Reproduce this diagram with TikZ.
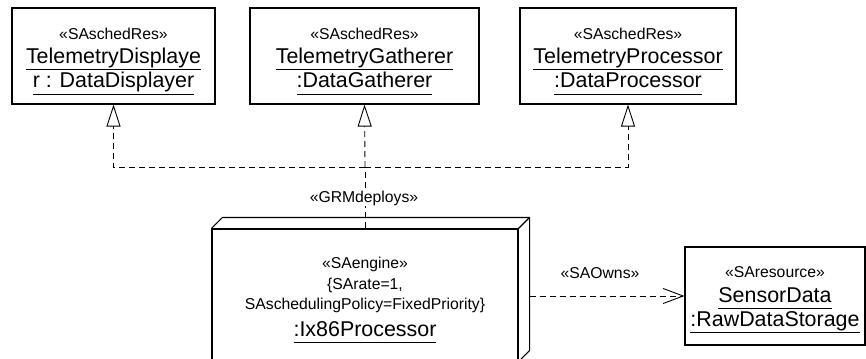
\documentclass[tikz,border=0pt]{standalone}
\usepackage{fontspec}
\setmainfont{Liberation Sans}
\usetikzlibrary{arrows.meta,calc}
\newcommand\ulx[1]{\underline{\vphantom{y}#1}}
\newcommand\smallsz{\fontsize{15.8}{20.5}\selectfont}
\newcommand\bigsz{\fontsize{21.5}{24.5}\selectfont}
\tikzset{
  objbox/.style={draw, line width=1.1bp, inner sep=0pt},
  boxtext/.style={align=center, inner sep=0pt, font=\bigsz},
  dep/.style={line width=0.9bp, dash pattern=on 6bp off 4bp},
  real/.style={dep, -{Triangle[open,length=22bp,width=14bp,line width=0.9bp]}},
  owns/.style={dep, -{Straight Barb[length=20bp,width=15bp,line width=0.9bp]}},
  lbl/.style={font=\smallsz, inner sep=1pt}
}
\begin{document}
\begin{tikzpicture}[x=1bp,y=-1bp]
\useasboundingbox (0,0) rectangle (866,358);
\clip (0,0) rectangle (866,358);
% top boxes
\node[objbox, minimum width=203bp, minimum height=96bp] (b1) at (113.5,56) {};
\node[boxtext] (t1) at ($(b1.center)+(0,5)$)
  {{\smallsz «SAschedRes»}\\\ulx{TelemetryDisplaye}\\\ulx{r : DataDisplayer}};
\node[objbox, minimum width=229bp, minimum height=96bp] (b2) at (364.5,56) {};
\node[boxtext] (t2) at ($(b2.center)+(0,5)$)
  {{\smallsz «SAschedRes»}\\\ulx{TelemetryGatherer}\\\ulx{:DataGatherer}};
\node[objbox, minimum width=216bp, minimum height=96bp] (b3) at (628,56) {};
\node[boxtext] (t3) at ($(b3.center)+(0,5)$)
  {{\smallsz «SAschedRes»}\\\ulx{TelemetryProcessor}\\\ulx{:DataProcessor}};
% processor node (front face)
\node[objbox, minimum width=306bp, minimum height=132bp] (proc) at (365,295) {};
\node[align=center, font=\smallsz, inner sep=0pt] (proctext) at (365,300)
  {«SAengine»\\\{SArate=1,\\SAschedulingPolicy=FixedPriority\}\\[6bp]{\bigsz\ulx{:Ix86Processor}}};
\draw[line width=1.1bp, line join=round]
  (proc.north west) -- ++(11,-11) -- ($(proc.north east)+(11,-11)$)
  -- ($(proc.south east)+(11,-11)$) -- (proc.south east);
\draw[line width=1.1bp] (proc.north east) -- ++(11,-11);
% sensor data
\node[objbox, minimum width=180bp, minimum height=98bp] (sd) at (775,296) {};
\node[boxtext] (tsd) at ($(sd.center)+(0,4)$)
  {{\smallsz «SAresource»}\\\ulx{SensorData}\\\ulx{:RawDataStorage}};
% realization connectors
\coordinate (j) at (proc.north |- 0,167);
\draw[dep] (proc.north) -- (j);
\draw[real] (j) -| (b1.south);
\draw[real] (j) -- (b2.south);
\draw[real] (j) -| (b3.south);
\node[lbl, fill=white] (gd) at (364,198) {«GRMdeploys»};
% owns
\coordinate (procR) at ($(proc.east)+(11,-11)$);
\coordinate (ownsStart) at (procR |- sd.west);
\draw[owns] (ownsStart) -- (sd.west);
\node[lbl] (ol) at (600,273) {«SAOwns»};
\end{tikzpicture}
\end{document}
